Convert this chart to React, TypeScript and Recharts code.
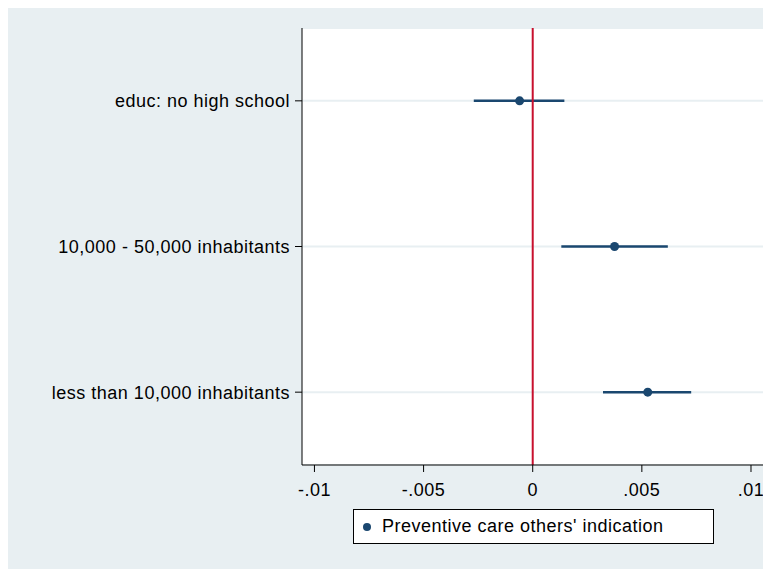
import React from "react";
import {
  ScatterChart,
  Scatter,
  XAxis,
  YAxis,
  CartesianGrid,
  ReferenceLine,
  ErrorBar,
  Legend,
} from "recharts";

const categories = [
  "educ: no high school",
  "10,000 - 50,000 inhabitants",
  "less than 10,000 inhabitants",
];
const estimates = [-0.0006, 0.00375, 0.00527];
const ciLow = [-0.0027, 0.00131, 0.00322];
const ciHigh = [0.00145, 0.00619, 0.00726];
const xTicks = [-0.01, -0.005, 0, 0.005, 0.01];
const seriesName = "Preventive care others' indication";

const NAVY = "#1a476f";
const RED = "#c8102e";
const BG = "#e8eff2";
const FONT = "Arial, 'Liberation Sans', sans-serif";
const TICK_STYLE = { fill: "#000", fontSize: 18, fontFamily: FONT, letterSpacing: 0.5 };

const data = categories.map((c, i) => ({
  name: c,
  row: i + 1,
  est: estimates[i],
  err: [estimates[i] - ciLow[i], ciHigh[i] - estimates[i]],
}));

const fmtX = (v: number) => String(v).replace("0.", ".");
const fmtY = (v: number) => categories[v - 1] ?? "";

const LegendBox = () => (
  <div
    style={{
      boxSizing: "border-box",
      width: 361,
      height: 35,
      border: "1px solid #000",
      background: "#fff",
      display: "flex",
      alignItems: "center",
      fontFamily: FONT,
      fontSize: 18,
      letterSpacing: 0.5,
      color: "#000",
    }}
  >
    <svg width={28} height={20} style={{ flex: "none" }}>
      <circle cx={13} cy={10} r={4} fill={NAVY} />
    </svg>
    <span>{seriesName}</span>
  </div>
);

const Dot = (props: any) => (
  <circle cx={props.cx} cy={props.cy} r={4.5} fill={NAVY} />
);

export default function App() {
  return (
    <div style={{ width: 763, height: 563, background: BG, marginTop: -1 }}>
      <ScatterChart
        width={763}
        height={563}
        margin={{ top: 21, right: 8, bottom: 26, left: 0 }}
      >
        <CartesianGrid
          fill="#ffffff"
          vertical={false}
          stroke={BG}
          strokeWidth={2}
          strokeDasharray=""
        />
        <XAxis
          type="number"
          dataKey="est"
          domain={[-0.01057, 0.01055]}
          ticks={xTicks}
          tickFormatter={fmtX}
          allowDataOverflow
          height={44}
          tickSize={7}
          tickMargin={11}
          stroke="#000"
          tick={TICK_STYLE}
          tickLine={{ stroke: "#000" }}
          axisLine={{ stroke: "#000" }}
        />
        <YAxis
          type="number"
          dataKey="row"
          domain={[0.5, 3.5]}
          ticks={[1, 2, 3]}
          reversed
          allowDataOverflow
          tickFormatter={fmtY}
          width={294}
          tickSize={7}
          tickMargin={5}
          stroke="#000"
          tick={TICK_STYLE}
          tickLine={{ stroke: "#000" }}
          axisLine={{ stroke: "#000" }}
        />
        <Scatter
          name={seriesName}
          data={data}
          fill={NAVY}
          shape={Dot}
          isAnimationActive={false}
        >
          <ErrorBar
            dataKey="err"
            direction="x"
            width={0}
            stroke={NAVY}
            strokeWidth={2.5}
            isAnimationActive={false}
          />
        </Scatter>
        <ReferenceLine x={0} stroke={RED} strokeWidth={2} ifOverflow="extendDomain" />
        <Legend
          verticalAlign="bottom"
          content={<LegendBox />}
          wrapperStyle={{ left: 345, width: 361, height: 35 }}
        />
      </ScatterChart>
    </div>
  );
}
